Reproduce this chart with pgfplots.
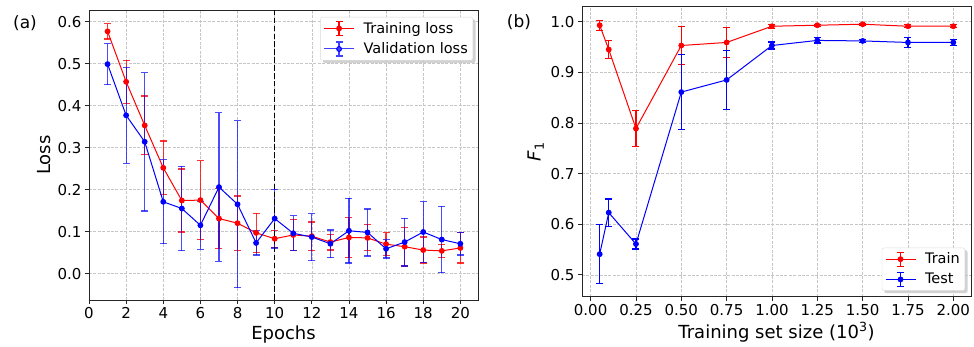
\documentclass[border=0pt]{standalone}
\usepackage{fontspec}
\setmainfont{DejaVu Sans}
\usepackage{pgfplots}
\usepackage{pgfplotstable}
\pgfplotsset{compat=1.18}
\usetikzlibrary{backgrounds}

\pgfplotstableread{
x y e
1 0.577 0.018
2 0.457 0.051
3 0.353 0.070
4 0.252 0.064
5 0.174 0.075
6 0.175 0.094
7 0.131 0.072
8 0.120 0.065
9 0.097 0.047
10 0.083 0.020
11 0.092 0.037
12 0.089 0.034
13 0.075 0.019
14 0.086 0.048
15 0.085 0.031
16 0.070 0.027
17 0.064 0.046
18 0.056 0.031
19 0.054 0.016
20 0.061 0.036
}\trainloss

\pgfplotstableread{
x y e
1 0.499 0.049
2 0.377 0.114
3 0.314 0.165
4 0.171 0.100
5 0.155 0.101
6 0.115 0.057
7 0.206 0.177
8 0.165 0.199
9 0.073 0.029
10 0.131 0.070
11 0.096 0.042
12 0.087 0.056
13 0.071 0.033
14 0.102 0.077
15 0.098 0.056
16 0.059 0.022
17 0.075 0.057
18 0.099 0.072
19 0.081 0.079
20 0.071 0.027
}\valloss

\pgfplotstableread{
x y e
0.05 0.993 0.010
0.10 0.945 0.018
0.25 0.789 0.036
0.50 0.953 0.037
0.75 0.959 0.030
1.00 0.991 0.004
1.25 0.993 0.002
1.50 0.995 0.002
1.75 0.991 0.003
2.00 0.991 0.003
}\trainf

\pgfplotstableread{
x y e
0.05 0.541 0.058
0.10 0.623 0.027
0.25 0.561 0.010
0.50 0.861 0.074
0.75 0.885 0.058
1.00 0.953 0.007
1.25 0.963 0.005
1.50 0.962 0.003
1.75 0.959 0.010
2.00 0.959 0.006
}\testf

\newcommand\errimg[1]{%
  \draw[draw=#1, line width=1pt] (0pt,0pt) -- (30pt,0pt);
  \draw[draw=#1, line width=1.2pt] (15pt,-7pt) -- (15pt,7pt);
  \draw[draw=#1, line width=1.2pt] (11.5pt,7pt) -- (18.5pt,7pt);
  \draw[draw=#1, line width=1.2pt] (11.5pt,-7pt) -- (18.5pt,-7pt);
  \fill[fill=#1] (15pt,0pt) circle (2.4pt);
}

\pgfplotsset{
  mystyle/.style={
    width=389pt, height=290pt, scale only axis,
    axis line style={black!85, line width=0.9pt},
    tick align=outside, tick pos=left,
    major tick length=4pt,
    every tick/.style={black!85, line width=0.9pt},
    grid=major,
    grid style={dash pattern=on 3pt off 1.4pt, gray!45, line width=0.6pt},
    tick label style={font=\fontsize{15}{17}\selectfont},
    label style={font=\fontsize{18}{21}\selectfont},
    /pgf/number format/assume math mode=true,
    legend cell align=left,
    legend style={font=\fontsize{14.5}{17}\selectfont, draw=gray!30,
      rounded corners=2pt, fill=white,
      inner sep=3pt, row sep=4pt,
      nodes={inner sep=2pt},
      /tikz/every odd column/.append style={column sep=7pt}},
  },
}

\begin{document}
\begin{tikzpicture}
\useasboundingbox (0,0) rectangle (974pt,347pt);

\begin{axis}[mystyle,
  at={(89pt,47pt)}, anchor=south west,
  xmin=0, xmax=20.95, ymin=-0.063, ymax=0.628,
  xtick={0,2,...,20}, ytick={0,0.1,0.2,0.3,0.4,0.5,0.6},
  yticklabel style={/pgf/number format/.cd, fixed, fixed zerofill, precision=1},
  xlabel={Epochs}, ylabel={Loss},
  legend style={name=legA, at={(1,1)}, anchor=north east, xshift=-5pt, yshift=-7pt},
]
\addplot[red, line width=1pt, mark=*, mark size=2.4pt,
  legend image code/.code={\errimg{red}},
  error bars/.cd, y dir=both, y explicit,
  error bar style={line width=1.2pt, red, opacity=0.8},
  error mark options={rotate=90, mark size=3.5pt, line width=1.2pt, red, opacity=0.8}]
  table[x=x, y=y, y error=e] {\trainloss};
\addlegendentry{Training loss}
\addplot[blue, line width=1pt, mark=*, mark size=2.4pt,
  legend image code/.code={\errimg{blue!75}},
  error bars/.cd, y dir=both, y explicit,
  error bar style={line width=1.2pt, blue, opacity=0.7},
  error mark options={rotate=90, mark size=3.5pt, line width=1.2pt, blue, opacity=0.7}]
  table[x=x, y=y, y error=e] {\valloss};
\addlegendentry{Validation loss}
\addplot[black, line width=1.3pt, dash pattern=on 5.5pt off 2.4pt, forget plot]
  coordinates {(10,-0.1) (10,0.7)};
\end{axis}

\begin{axis}[mystyle,
  at={(582pt,50.3pt)}, anchor=south west,
  xmin=-0.0475, xmax=2.0975, ymin=0.457, ymax=1.0296,
  xtick={0,0.25,...,2}, ytick={0.5,0.6,0.7,0.8,0.9,1.0},
  xticklabel style={/pgf/number format/.cd, fixed, fixed zerofill, precision=2},
  yticklabel style={/pgf/number format/.cd, fixed, fixed zerofill, precision=1},
  xlabel={Training set size (10\textsuperscript{3})},
  ylabel={{\itshape F}\textsubscript{1}},
  legend style={name=legB, at={(1,0)}, anchor=south east, xshift=-6pt, yshift=6pt},
]
\addplot[red, line width=1pt, mark=*, mark size=2.4pt,
  legend image code/.code={\errimg{red}},
  error bars/.cd, y dir=both, y explicit,
  error bar style={line width=1.2pt, red},
  error mark options={rotate=90, mark size=3.5pt, line width=1.2pt, red}]
  table[x=x, y=y, y error=e] {\trainf};
\addlegendentry{Train}
\addplot[blue, line width=1pt, mark=*, mark size=2.4pt,
  legend image code/.code={\errimg{blue}},
  error bars/.cd, y dir=both, y explicit,
  error bar style={line width=1.2pt, blue},
  error mark options={rotate=90, mark size=3.5pt, line width=1.2pt, blue}]
  table[x=x, y=y, y error=e] {\testf};
\addlegendentry{Test}
\end{axis}

\begin{scope}[on background layer]
  \fill[gray!35, rounded corners=2pt] ([xshift=2.5pt,yshift=-2.5pt]legA.south west) rectangle ([xshift=2.5pt,yshift=-2.5pt]legA.north east);
  \fill[gray!35, rounded corners=2pt] ([xshift=2.5pt,yshift=-2.5pt]legB.south west) rectangle ([xshift=2.5pt,yshift=-2.5pt]legB.north east);
\end{scope}

\node[font=\fontsize{17}{20}\selectfont] at (25pt,324pt) {(a)};
\node[font=\fontsize{17}{20}\selectfont] at (519pt,325pt) {(b)};
\end{tikzpicture}
\end{document}
